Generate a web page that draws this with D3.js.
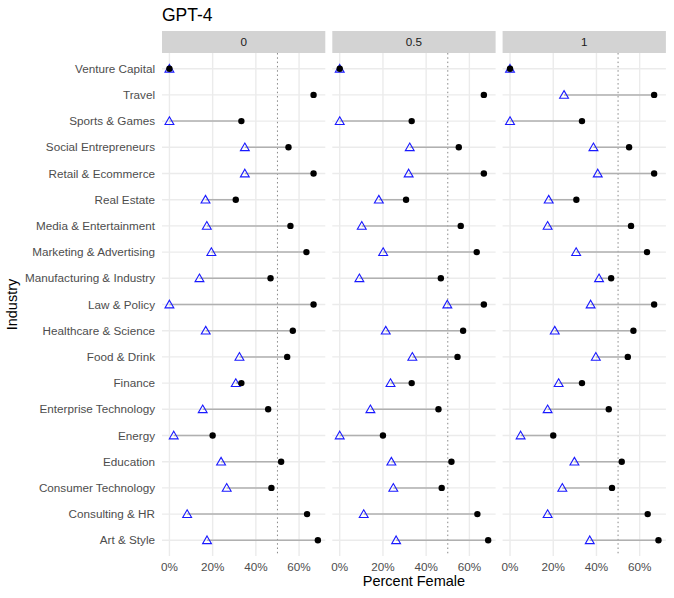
<!DOCTYPE html>
<html>
<head>
<meta charset="utf-8">
<script src="https://cdn.jsdelivr.net/npm/d3@7"></script>
<style>
  body { margin: 0; background: #fff; }
  text { font-family: "Liberation Sans", Arial, sans-serif; }
</style>
</head>
<body>
<div id="chart"></div>
<script>
// industries, top to bottom
const industries = ["Venture Capital", "Travel", "Sports & Games", "Social Entrepreneurs",
  "Retail & Ecommerce", "Real Estate", "Media & Entertainment", "Marketing & Advertising",
  "Manufacturing & Industry", "Law & Policy", "Healthcare & Science", "Food & Drink",
  "Finance", "Enterprise Technology", "Energy", "Education", "Consumer Technology",
  "Consulting & HR", "Art & Style"];

// black dots (same in every panel)
const actual = [0, 0.667, 0.333, 0.551, 0.667, 0.307, 0.560, 0.634, 0.468, 0.667,
  0.571, 0.545, 0.333, 0.457, 0.200, 0.517, 0.472, 0.637, 0.687];

// blue triangles per panel
const panels = ["0", "0.5", "1"];
const gen0 = [0, null, 0, 0.349, 0.349, 0.167, 0.173, 0.194, 0.139, 0,
  0.168, 0.324, 0.307, 0.154, 0.020, 0.239, 0.265, 0.082, 0.174];
const gen05 = [0, null, 0, 0.324, 0.319, 0.181, 0.102, 0.201, 0.091, 0.498,
  0.213, 0.336, 0.235, 0.142, 0, 0.239, 0.248, 0.111, 0.261];
const gen1 = [0, 0.250, 0, 0.386, 0.406, 0.179, 0.174, 0.306, 0.412, 0.373,
  0.207, 0.397, 0.225, 0.174, 0.049, 0.298, 0.242, 0.174, 0.369];
const generated = [gen0, gen05, gen1];

const xTicks = [0, 0.2, 0.4, 0.6];

const svgWidth = 674;
const svgHeight = 598;

const panelLeft = 162;
const panelWidth = 163.3;
const panelGap = 7;
const stripTop = 31;
const stripH = 22;
const plotTop = stripTop + stripH;
const plotBottom = 556;

const svg = d3.select("#chart")
  .append("svg")
  .attr("width", svgWidth)
  .attr("height", svgHeight);

// scales
const maxVal = d3.max(actual);
const pad = maxVal * 0.05;
const x = d3.scaleLinear()
  .domain([-pad, maxVal + pad])
  .range([0, panelWidth]);

const y = d3.scalePoint()
  .domain(industries)
  .range([plotTop, plotBottom])
  .padding(0.6);

// title
svg.append("text")
  .attr("x", panelLeft)
  .attr("y", 21)
  .attr("font-size", 17.5)
  .attr("fill", "#000")
  .text("GPT-4");

// y axis labels
svg.append("g").selectAll("text")
  .data(industries)
  .enter()
  .append("text")
  .attr("x", panelLeft - 7)
  .attr("y", d => y(d))
  .attr("dy", "0.35em")
  .attr("text-anchor", "end")
  .attr("font-size", 11.7)
  .attr("fill", "#4d4d4d")
  .text(d => d);

// axis titles
svg.append("text")
  .attr("transform", `translate(17, ${(plotTop + plotBottom) / 2}) rotate(-90)`)
  .attr("text-anchor", "middle")
  .attr("font-size", 14.5)
  .attr("fill", "#000")
  .text("Industry");

const panelsRight = panelLeft + 3 * panelWidth + 2 * panelGap;
svg.append("text")
  .attr("x", (panelLeft + panelsRight) / 2)
  .attr("y", 586)
  .attr("text-anchor", "middle")
  .attr("font-size", 14.5)
  .attr("fill", "#000")
  .text("Percent Female");

// triangle symbol
const tri = d3.symbol().type(d3.symbolTriangle).size(34);

panels.forEach((p, i) => {
  const g = svg.append("g")
    .attr("transform", `translate(${panelLeft + i * (panelWidth + panelGap)}, 0)`);

  // strip
  g.append("rect")
    .attr("x", 0)
    .attr("y", stripTop)
    .attr("width", panelWidth)
    .attr("height", stripH)
    .attr("fill", "#d3d3d3");
  g.append("text")
    .attr("x", panelWidth / 2)
    .attr("y", stripTop + stripH / 2)
    .attr("dy", "0.35em")
    .attr("text-anchor", "middle")
    .attr("font-size", 11.7)
    .attr("fill", "#1a1a1a")
    .text(p);

  // grid
  g.append("g").selectAll("line")
    .data(xTicks)
    .enter()
    .append("line")
    .attr("x1", d => x(d))
    .attr("x2", d => x(d))
    .attr("y1", plotTop)
    .attr("y2", plotBottom)
    .attr("stroke", "#ebebeb")
    .attr("stroke-width", 1.4);
  g.append("g").selectAll("line")
    .data(industries)
    .enter()
    .append("line")
    .attr("x1", 0)
    .attr("x2", panelWidth)
    .attr("y1", d => y(d))
    .attr("y2", d => y(d))
    .attr("stroke", "#ebebeb")
    .attr("stroke-width", 1.4);

  // 50% reference
  g.append("line")
    .attr("x1", x(0.5))
    .attr("x2", x(0.5))
    .attr("y1", plotTop)
    .attr("y2", plotBottom)
    .attr("stroke", "#888")
    .attr("stroke-width", 1)
    .attr("stroke-dasharray", "1.5,2.8");

  // x tick labels
  g.append("g").selectAll("text")
    .data(xTicks)
    .enter()
    .append("text")
    .attr("x", d => x(d))
    .attr("y", 571)
    .attr("text-anchor", "middle")
    .attr("font-size", 11.7)
    .attr("fill", "#4d4d4d")
    .text(d => d3.format(".0%")(d));

  const rows = industries.map((d, j) => ({ name: d, act: actual[j], gen: generated[i][j] }));

  // segments
  g.append("g").selectAll("line")
    .data(rows.filter(d => d.gen !== null))
    .enter()
    .append("line")
    .attr("x1", d => x(d.gen))
    .attr("x2", d => x(d.act))
    .attr("y1", d => y(d.name))
    .attr("y2", d => y(d.name))
    .attr("stroke", "#b0b0b0")
    .attr("stroke-width", 1.5);

  // triangles
  g.append("g").selectAll("path")
    .data(rows.filter(d => d.gen !== null))
    .enter()
    .append("path")
    .attr("d", tri)
    .attr("transform", d => `translate(${x(d.gen)}, ${y(d.name) + 0.8})`)
    .attr("fill", "none")
    .attr("stroke", "#1a1aff")
    .attr("stroke-width", 1.1);

  // dots
  g.append("g").selectAll("circle")
    .data(rows)
    .enter()
    .append("circle")
    .attr("cx", d => x(d.act))
    .attr("cy", d => y(d.name))
    .attr("r", 3.2)
    .attr("fill", "#000");
});
</script>
</body>
</html>
